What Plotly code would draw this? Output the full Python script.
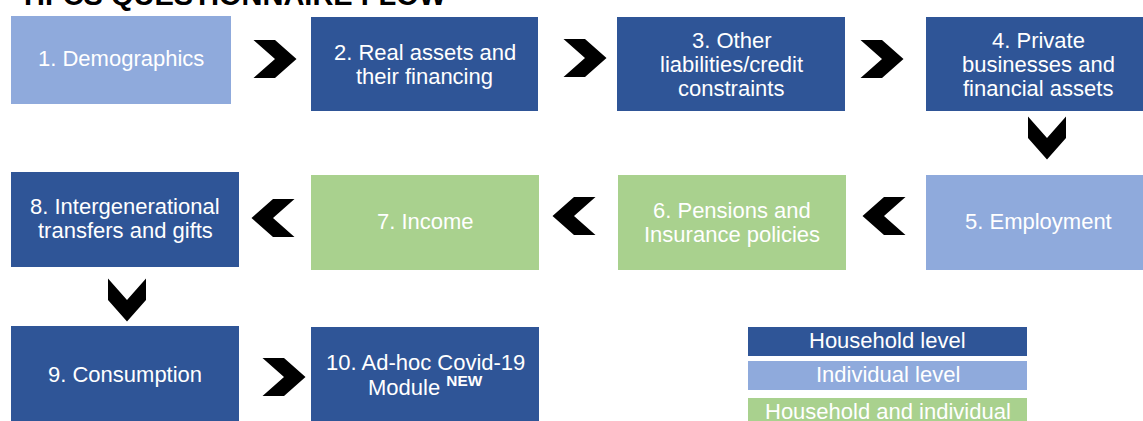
import plotly.graph_objects as go

# ---- content ----
title_text = "HFCS QUESTIONNAIRE FLOW"
box_labels = [
    ["1. Demographics"],
    ["2. Real assets and", "their financing"],
    ["3. Other", "liabilities/credit", "constraints"],
    ["4. Private", "businesses and", "financial assets"],
    ["5. Employment"],
    ["6. Pensions and", "Insurance policies"],
    ["7. Income"],
    ["8. Intergenerational", "transfers and gifts"],
    ["9. Consumption"],
    ["10. Ad-hoc Covid-19", "Module <sup><b>NEW</b></sup>"],
]
box_levels = ["ind", "hh", "hh", "hh", "ind", "both", "both", "hh", "hh", "hh"]
legend_levels = ["hh", "ind", "both"]
legend_labels = ["Household level", "Individual level", "Household and individual"]

# ---- layout / style ----
colors = {"hh": "#2F5597", "ind": "#8FAADC", "both": "#A9D18E"}
box_rects = [  # x0, x1, y0, y1 in pixel space
    (11, 231, 16, 104),
    (311, 538, 17, 111),
    (617, 845, 17, 111),
    (926, 1150, 17, 111),
    (926, 1150, 175, 270),
    (618, 846, 175, 270),
    (311, 539, 175, 270),
    (11, 239, 172, 267),
    (11, 239, 326, 440),
    (311, 539, 327, 440),
]
box_text_cy = [58, 64, 64, 64, 221, 222, 221, 218, 374, 374]
arrows = [  # center x, center y, direction
    (275, 59, "r"), (585, 58, "r"), (882, 59, "r"),
    (1047, 138, "d"),
    (884, 216, "l"), (574, 216, "l"), (273, 218, "l"),
    (127, 300, "d"),
    (284, 377, "r"),
]
legend_x = (748, 1027)
legend_y = [(327, 356), (361, 390), (398, 427)]

FONT = "Liberation Sans, Arial, sans-serif"
FS = 22
LINE = 24
W, H = 1143, 421

fig = go.Figure()
shapes = []
annotations = []

for rect, lvl in zip(box_rects, box_levels):
    x0, x1, y0, y1 = rect
    shapes.append(dict(type="rect", xref="x", yref="y", x0=x0, x1=x1, y0=y0, y1=y1,
                       fillcolor=colors[lvl], line=dict(width=0), layer="below"))

for rect, lines, cy in zip(box_rects, box_labels, box_text_cy):
    cx = (rect[0] + rect[1]) / 2
    n = len(lines)
    for i, t in enumerate(lines):
        yy = cy + (i - (n - 1) / 2) * LINE
        annotations.append(dict(x=cx, y=yy, xref="x", yref="y", text=t, showarrow=False,
                                xanchor="center", yanchor="middle",
                                font=dict(family=FONT, size=FS, color="white")))

ALONG, ACROSS = 43, 38
P = 0.5


def chevron(cx, cy, d):
    a, b = ALONG / 2, ACROSS / 2
    p = ALONG * P
    pts = [(-a, -b), (a - p, -b), (a, 0), (a - p, b), (-a, b), (-a + p, 0)]
    out = []
    for u, v in pts:
        if d == "r":
            out.append((cx + u, cy + v))
        elif d == "l":
            out.append((cx - u, cy + v))
        else:
            out.append((cx + v, cy + u))
    return "M " + " L ".join(f"{x:.1f},{y:.1f}" for x, y in out) + " Z"


for cx, cy, d in arrows:
    shapes.append(dict(type="path", xref="x", yref="y", path=chevron(cx, cy, d),
                       fillcolor="black", line=dict(width=0)))

for lvl, lab, (y0, y1) in zip(legend_levels, legend_labels, legend_y):
    shapes.append(dict(type="rect", xref="x", yref="y", x0=legend_x[0], x1=legend_x[1],
                       y0=y0, y1=y1, fillcolor=colors[lvl], line=dict(width=0), layer="below"))
    annotations.append(dict(x=(legend_x[0] + legend_x[1]) / 2, y=(y0 + y1) / 2 - 1,
                            xref="x", yref="y", text=lab, showarrow=False,
                            xanchor="center", yanchor="middle",
                            font=dict(family=FONT, size=FS, color="white")))

# title: only its lower part is visible at the top edge
annotations.append(dict(x=22 / W, y=1 + 5 / H, xref="paper", yref="paper",
                        text=f"<b>{title_text}</b>",
                        showarrow=False, xanchor="left", yanchor="middle",
                        font=dict(family=FONT, size=29, color="black")))

fig.update_layout(
    width=W, height=H,
    margin=dict(l=0, r=0, t=0, b=0),
    paper_bgcolor="white", plot_bgcolor="white",
    shapes=shapes, annotations=annotations,
    xaxis=dict(range=[0, W], visible=False, fixedrange=True),
    yaxis=dict(range=[H, 0], visible=False, fixedrange=True),
    showlegend=False,
)
fig.write_html("out.html", config={"displayModeBar": False},
               post_script="document.body.style.margin='0';document.body.style.overflow='hidden';")
